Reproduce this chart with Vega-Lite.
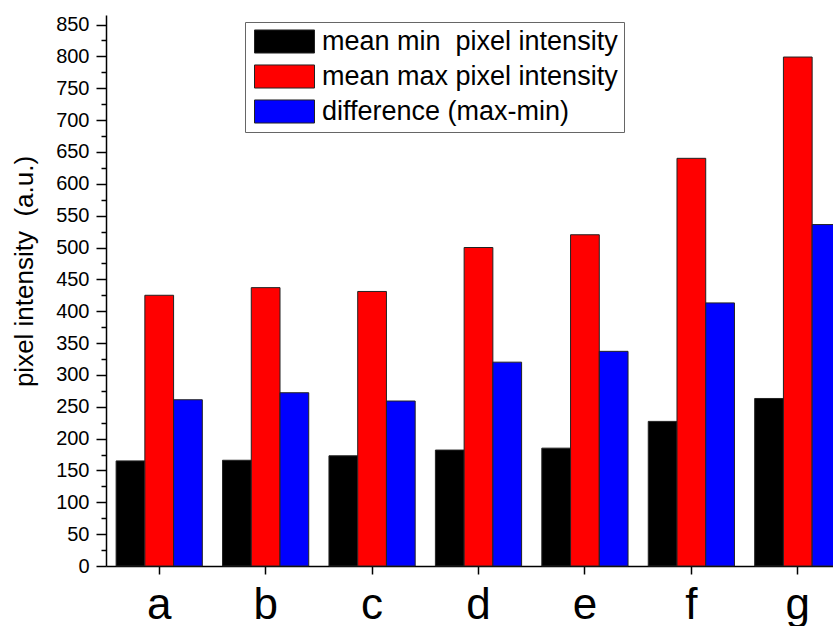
{
  "$schema": "https://vega.github.io/schema/vega-lite/v6.json",
  "autosize": {"type": "none"},
  "padding": {"left": 106, "top": 15, "right": 0, "bottom": 60},
  "width": 727,
  "height": 551,
  "background": "white",
  "config": {
    "font": "Liberation Sans",
    "view": {"stroke": null},
    "axis": {"labelColor": "black", "titleColor": "black", "domainColor": "black", "tickColor": "black", "grid": false, "labelFont": "Liberation Sans", "titleFont": "Liberation Sans", "titleFontWeight": "normal"}
  },
  "data": {
    "values": [
      {"sample": "a", "series": "mean min\u00a0 pixel intensity", "value": 165},
      {"sample": "a", "series": "mean max pixel intensity", "value": 425},
      {"sample": "a", "series": "\u00a0difference (max-min)", "value": 261},
      {"sample": "b", "series": "mean min\u00a0 pixel intensity", "value": 166},
      {"sample": "b", "series": "mean max pixel intensity", "value": 437},
      {"sample": "b", "series": "\u00a0difference (max-min)", "value": 272},
      {"sample": "c", "series": "mean min\u00a0 pixel intensity", "value": 173},
      {"sample": "c", "series": "mean max pixel intensity", "value": 431},
      {"sample": "c", "series": "\u00a0difference (max-min)", "value": 259},
      {"sample": "d", "series": "mean min\u00a0 pixel intensity", "value": 182},
      {"sample": "d", "series": "mean max pixel intensity", "value": 500},
      {"sample": "d", "series": "\u00a0difference (max-min)", "value": 320},
      {"sample": "e", "series": "mean min\u00a0 pixel intensity", "value": 185},
      {"sample": "e", "series": "mean max pixel intensity", "value": 520},
      {"sample": "e", "series": "\u00a0difference (max-min)", "value": 337},
      {"sample": "f", "series": "mean min\u00a0 pixel intensity", "value": 227},
      {"sample": "f", "series": "mean max pixel intensity", "value": 640},
      {"sample": "f", "series": "\u00a0difference (max-min)", "value": 413},
      {"sample": "g", "series": "mean min\u00a0 pixel intensity", "value": 263},
      {"sample": "g", "series": "mean max pixel intensity", "value": 799},
      {"sample": "g", "series": "\u00a0difference (max-min)", "value": 536}
    ]
  },
  "mark": {"type": "bar", "stroke": "#222", "strokeWidth": 1},
  "encoding": {
    "x": {
      "field": "sample", "type": "nominal",
      "scale": {"range": [0, 745], "paddingInner": 0.19, "paddingOuter": 0.095},
      "axis": {"title": null, "labelAngle": 0, "labelFontSize": 44, "labelPadding": 9, "tickSize": 8, "domainWidth": 1.5, "tickWidth": 1.5}
    },
    "xOffset": {
      "field": "series", "type": "nominal",
      "sort": ["mean min\u00a0 pixel intensity", "mean max pixel intensity", "\u00a0difference (max-min)"],
      "scale": {"paddingInner": 0, "paddingOuter": 0}
    },
    "y": {
      "field": "value", "type": "quantitative",
      "scale": {"domain": [0, 865], "nice": false},
      "axis": {
        "title": "pixel intensity\u00a0 (a.u.)",
        "titleFontSize": 26,
        "titleX": -74,
        "titleY": 256,
        "titleAngle": -90,
        "titleAlign": "center",
        "titleBaseline": "alphabetic",
        "values": [0,25,50,75,100,125,150,175,200,225,250,275,300,325,350,375,400,425,450,475,500,525,550,575,600,625,650,675,700,725,750,775,800,825,850],
        "labelExpr": "datum.value % 50 === 0 ? datum.label : ''",
        "labelOverlap": false,
        "labelFontSize": 20,
        "labelPadding": 7,
        "tickSize": {"condition": {"test": "datum.value % 50 === 0", "value": 10}, "value": 5},
        "domainWidth": 1.5,
        "tickWidth": 1.5
      }
    },
    "color": {
      "field": "series", "type": "nominal",
      "scale": {"domain": ["mean min\u00a0 pixel intensity", "mean max pixel intensity", "\u00a0difference (max-min)"], "range": ["#000000", "#ff0000", "#0000ff"]},
      "legend": {
        "title": null,
        "orient": "none",
        "legendX": 139,
        "legendY": 7,
        "strokeColor": "#666",
        "fillColor": "white",
        "padding": 6,
        "labelFontSize": 27,
        "labelLimit": 500,
        "labelColor": "black",
        "labelFont": "Liberation Sans",
        "symbolType": "M-2.5,-0.96H2.5V0.96H-2.5Z",
        "symbolSize": 576,
        "symbolStrokeColor": "#222",
        "symbolStrokeWidth": 1,
        "symbolOpacity": 1,
        "symbolOffset": 20,
        "labelOffset": 24,
        "rowPadding": 6
      }
    }
  }
}
